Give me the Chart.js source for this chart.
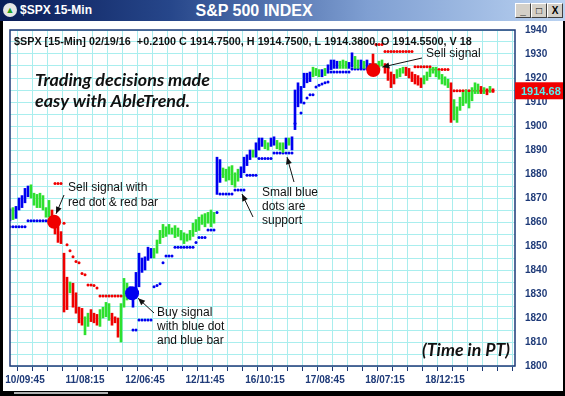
<!DOCTYPE html>
<html>
<head>
<meta charset="utf-8">
<script src="https://cdn.jsdelivr.net/npm/chart.js@4.4.0/dist/chart.umd.min.js"></script>
<style>
html,body{margin:0;padding:0;background:#fff;}
#win{position:relative;width:565px;height:396px;overflow:hidden;background:#fff;font-family:"Liberation Sans",Arial,sans-serif;}
canvas{position:absolute;left:0;top:0;}
#bar{position:absolute;left:0;top:0;width:565px;height:21px;background:linear-gradient(90deg,#0a1d58 0%,#26468a 30%,#7f9fd2 65%,#bad2f1 100%);}
#ico{position:absolute;left:3px;top:3px;width:14px;height:14px;border-radius:50%;background:#e6e6e6;color:#20a020;font-size:9px;line-height:14px;text-align:center;}
#sym{position:absolute;left:20px;top:3px;color:#fff;font-weight:bold;font-size:12px;line-height:15px;}
#ttl{position:absolute;left:0;width:508px;top:1px;text-align:center;color:#fff;font-weight:bold;font-size:16px;line-height:19px;}
.btn{position:absolute;top:3px;width:14px;height:13px;background:#d4d0c8;border:1px solid;border-color:#fff #404040 #404040 #fff;font-size:10px;line-height:13px;text-align:center;font-weight:bold;color:#000;}
.fr{position:absolute;background:#000;}
#sb{position:absolute;left:14px;bottom:2px;width:94px;height:2px;background:#b0b0b0;}
</style>
</head>
<body>
<div id="win">
  <canvas id="c" width="565" height="396"></canvas>
  <div id="bar">
    <div id="ico">&#9650;</div>
    <div id="sym">$SPX 15-Min</div>
    <div id="ttl">S&amp;P 500 INDEX</div>
    <div class="btn" style="left:515px">_</div>
    <div class="btn" style="left:531px">&#9633;</div>
    <div class="btn" style="left:547px">X</div>
  </div>
  <div class="fr" style="left:0;top:21px;width:3px;height:375px"></div>
  <div class="fr" style="right:0;top:21px;width:2px;height:375px"></div>
  <div class="fr" style="left:0;bottom:0;width:565px;height:5px"></div>
  <div id="sb"></div>
</div>
<script>
// 15-min bars, index 0 = 02/10 08:30 PT
const xLabelIdx = [5, 25, 45, 65, 85, 105, 125, 145];
const xLabels = ['10/09:45', '11/08:15', '12/06:45', '12/11:45', '16/10:15', '17/08:45', '18/07:15', '18/12:15'];

const barHigh = [
  1865.5, 1866, 1866.5, 1870, 1871, 1874, 1875, 1875.5, 1872, 1871.5,
  1872, 1871, 1866, 1869, 1865, 1861, 1858, 1856, 1847, 1837,
  1835, 1834.5, 1830.5, 1824.5, 1824, 1820.5, 1822, 1823.5, 1822, 1821.5,
  1823.5, 1824.5, 1826.5, 1826, 1822, 1820.5, 1820, 1826, 1836.5, 1834.5,
  1833, 1831.5, 1839, 1847, 1845, 1845.5, 1849.5, 1849, 1849, 1852.5,
  1856.5, 1859, 1858, 1859, 1857.5, 1858.5, 1857.5, 1856.5, 1855.5, 1855,
  1856.5, 1859.5, 1861, 1862, 1863, 1863.5, 1864, 1865, 1864, 1887,
  1886, 1882.5, 1882, 1883, 1883.5, 1880.5, 1882, 1883, 1887, 1888,
  1890, 1890, 1893, 1895, 1895, 1894, 1893, 1895, 1895.5, 1894,
  1893, 1893, 1895, 1895, 1895.5, 1915, 1918, 1916.5, 1922, 1922,
  1922.5, 1924.5, 1924, 1923.5, 1923.5, 1924, 1925.5, 1927.5, 1927.5, 1927,
  1927, 1927.5, 1927, 1926.5, 1930.5, 1929, 1927.5, 1927.5, 1927, 1927.5,
  1926, 1930, 1926, 1927, 1927.5, 1926, 1924.5, 1922.5, 1921.5, 1923.5,
  1924, 1924.5, 1924.5, 1924, 1922.5, 1921.5, 1921, 1920, 1921, 1922.5,
  1924, 1924.5, 1924.5, 1923, 1921.5, 1920.5, 1919.5, 1918, 1911, 1908,
  1912, 1914, 1915, 1914, 1916, 1918, 1917.5, 1916.5, 1916, 1915.5,
  1916.5, 1915.5
];
const barLow = [
  1860.5, 1861, 1861.5, 1865, 1866, 1868, 1870.5, 1870, 1867, 1866,
  1866, 1865, 1862, 1862, 1859, 1855, 1851.5, 1851, 1822.5, 1823.5,
  1830.5, 1824.5, 1822, 1818, 1817, 1813, 1816.5, 1818.5, 1818, 1817,
  1816.5, 1820, 1820.5, 1819, 1817, 1818, 1812, 1810, 1824.5, 1827.5,
  1828, 1824.5, 1829, 1833, 1839, 1840, 1844, 1845, 1845, 1847,
  1851, 1853.5, 1854, 1855, 1855, 1853.5, 1854, 1852.5, 1851, 1852,
  1852.5, 1854, 1856, 1856.5, 1859, 1858, 1859.5, 1858, 1859.5, 1871.5,
  1876.5, 1878.5, 1877, 1877.5, 1875.5, 1874.5, 1877, 1878.5, 1880.5, 1883.5,
  1886, 1887, 1887, 1890, 1891.5, 1890.5, 1890, 1891.5, 1892, 1890.5,
  1890, 1889, 1890.5, 1892, 1890, 1898.5, 1908, 1909.5, 1916, 1918,
  1918.5, 1920.5, 1921, 1920.5, 1920.5, 1921, 1922, 1923.5, 1924, 1924,
  1924, 1924, 1924, 1924, 1924.5, 1924, 1924, 1924, 1924, 1924,
  1923.5, 1922, 1923, 1924.5, 1925, 1922, 1919, 1916, 1917.5, 1920,
  1920.5, 1922, 1921, 1920, 1918.5, 1917.5, 1917, 1916, 1917.5, 1919,
  1920.5, 1922, 1920.5, 1919.5, 1917.5, 1917, 1916, 1901.5, 1902.5, 1901.5,
  1906.5, 1908.5, 1909.5, 1907.5, 1910.5, 1913.5, 1913.5, 1913.5, 1913.5, 1913,
  1914, 1914
];
// B = up trend bar, G = neutral, R = down trend bar
const barColor = (
  'BGBBBBBGGG' + 'GGGGRRRRRR' + 'GRRRRGGRRR' + 'GGGGRRRGGG' + 'BBBBBBBBGG' +
  'GGGGGGGGGG' + 'GGGGGGGGGB' + 'BGGGGGGBBB' + 'BGBBBGGBBG' + 'GGBGBBBBBB' +
  'BGGGBGBBBB' + 'GGGBBGGBGB' + 'BRGGGRRRRG' + 'GGRRRRRRGG' + 'GGGGGGGRGG' +
  'GGGGGGGRGR' + 'GR').split('');

const supportDots = [
  1858, 1858, 1858, 1858, 1858, 1858, 1860.5, 1860.5, 1860.5, 1860.5,
  1860.5, 1860.5, 1860.5, 1860.5, null, null, null, null, null, null,
  null, null, null, null, null, null, null, null, null, null,
  null, null, null, null, null, null, null, null, null, null,
  null, 1815, 1815, 1819.2, 1819.2, 1819.2, 1819.2, 1819.2, 1833, 1833.5,
  1834.3, 1843, 1845.8, 1845.8, 1845.8, 1849.5, 1849.5, 1849.5, 1849.5, 1849.5,
  1849.5, 1849.5, 1851.5, 1853.5, 1853.5, 1853.5, 1856.7, 1856.7, 1856.7, 1864,
  1871.7, 1871.7, 1871.7, 1871.7, 1871.7, 1873.3, 1873.3, 1873.3, 1873.3, 1879.5,
  1879.5, 1879.5, 1879.5, 1886.5, 1886.5, 1886.5, 1886.5, 1886.5, 1888.7, 1888.7,
  1888.7, 1888.7, 1888.7, 1888.7, 1888.7, 1901, null, 1905.4, 1909.6, 1911.7,
  1913, 1913, 1916.3, 1917, 1917.5, 1918, 1918.3, 1922.5, 1922.5, 1922.5,
  1922.5, 1922.5, 1922.5, 1922.5, 1923.8, 1923.8, 1923.8, 1923.8, 1923.8, 1923.8,
  1923.8
];
const resistDots = [
  null, null, null, null, null, null, null, null, null, null,
  null, null, null, null, null, 1876, 1876, 1876, 1859.5, 1850.5,
  1848, 1845.5, 1843.5, 1843, 1838.5, 1838, 1833.7, 1833.7, 1833.5, 1832.5,
  1829.2, 1829.2, 1829.2, 1829.2, 1829.2, 1829.2, 1829.2, 1829.2, 1829.2, null,
  null, null, null, null, null, null, null, null, null, null,
  null, null, null, null, null, null, null, null, null, null,
  null, null, null, null, null, null, null, null, null, null,
  null, null, null, null, null, null, null, null, null, null,
  null, null, null, null, null, null, null, null, null, null,
  null, null, null, null, null, null, null, null, null, null,
  null, null, null, null, null, null, null, null, null, null,
  null, null, null, null, null, null, null, null, null, null,
  null, null, 1934, 1934, 1934, 1931, 1931, 1931, 1931, 1931,
  1931, 1931, 1931, 1931, 1931, 1924.7, 1924.7, 1924.7, 1924.7, 1924.7,
  1924.7, 1923.5, 1923.5, 1923.5, 1923.5, 1923.5, 1923.5, null, 1914.7, 1914.7,
  1914.7, 1914.7, 1914.7, 1914.7, 1914.7, 1914.7, 1914.7, 1914.7, 1914.7, 1914.7,
  1914.7, 1914.7
];

const sellIdx = [14.7, 121.1];
const sellPrice = [1860.1, 1923.3];
const buyIdx = [40.7];
const buyPrice = [1830.3];
const lastPrice = 1914.68;

const NAVY = '#1e3a78';
const GRID = '#a9eeee';
const COL = { B: '#0000f0', G: '#2ee02e', R: '#f00000' };
const SANS = '"Liberation Sans", Arial, sans-serif';
const ITAL = 'Lato, "Open Sans", sans-serif';
const header = '$SPX [15-Min] 02/19/16  +0.2100 C 1914.7500, H 1914.7500, L 1914.3800, O 1914.5500, V 18';

function pts(arr) {
  return arr.map((v, i) => (v == null ? null : { x: i, y: v })).filter(p => p);
}

function fit(ctx, text, style, fam, w) {
  ctx.font = style + ' 20px ' + fam;
  const s = 20 * w / ctx.measureText(text).width;
  return style + ' ' + s.toFixed(2) + 'px ' + fam;
}

function arrow(ctx, x1, y1, x2, y2) {
  const a = Math.atan2(y2 - y1, x2 - x1), L = 7, W = 3;
  ctx.beginPath(); ctx.moveTo(x1, y1); ctx.lineTo(x2, y2); ctx.stroke();
  ctx.beginPath();
  ctx.moveTo(x2, y2);
  ctx.lineTo(x2 - L * Math.cos(a) + W * Math.sin(a), y2 - L * Math.sin(a) - W * Math.cos(a));
  ctx.lineTo(x2 - L * Math.cos(a) - W * Math.sin(a), y2 - L * Math.sin(a) + W * Math.cos(a));
  ctx.closePath(); ctx.fill();
}

const notes = {
  id: 'notes',
  afterDraw(chart) {
    const { ctx, chartArea: a, scales: { x, y } } = chart;
    ctx.save();
    ctx.strokeStyle = NAVY; ctx.lineWidth = 1.5;
    ctx.strokeRect(a.left, a.top, a.right - a.left, a.bottom - a.top);

    ctx.fillStyle = '#111'; ctx.textBaseline = 'alphabetic'; ctx.textAlign = 'left';
    ctx.font = fit(ctx, header, 'bold', SANS, 458);
    ctx.fillText(header, 14, 45);

    ctx.font = fit(ctx, 'Trading decisions made', 'italic bold', ITAL, 175);
    ctx.fillText('Trading decisions made', 35, 86);
    ctx.fillText('easy with AbleTrend.', 35, 107);
    ctx.font = fit(ctx, '(Time in PT)', 'italic bold', ITAL, 88);
    ctx.fillText('(Time in PT)', 422, 356);

    ctx.font = '12px ' + SANS;
    [['Sell signal with', 68, 191], ['red dot & red bar', 68, 206],
     ['Buy signal', 157, 316], ['with blue dot', 157, 330], ['and blue bar', 157, 344],
     ['Small blue', 262, 196], ['dots are', 262, 210], ['support', 262, 224],
     ['Sell signal', 426, 57]].forEach(t => ctx.fillText(t[0], t[1], t[2]));

    ctx.strokeStyle = '#111'; ctx.lineWidth = 1;
    const s1x = x.getPixelForValue(sellIdx[0]), s1y = y.getPixelForValue(sellPrice[0]);
    const s2x = x.getPixelForValue(sellIdx[1]), s2y = y.getPixelForValue(sellPrice[1]);
    const bx = x.getPixelForValue(buyIdx[0]), by = y.getPixelForValue(buyPrice[0]);
    arrow(ctx, 64, 195, s1x + 2, s1y - 8);
    arrow(ctx, 154, 313, bx + 6, by + 5);
    arrow(ctx, 422, 58, s2x + 9, s2y - 3);
    arrow(ctx, 253, 217, x.getPixelForValue(77) + 1, y.getPixelForValue(supportDots[77]) + 4);
    arrow(ctx, 294, 182, x.getPixelForValue(92) + 1, y.getPixelForValue(supportDots[92]) + 4);

    // last price tag
    const py = y.getPixelForValue(lastPrice);
    ctx.fillStyle = '#f00000';
    ctx.fillRect(a.right, py - 8.5, 50, 17);
    ctx.fillStyle = '#55f0f0';
    ctx.font = 'bold 11px ' + SANS;
    ctx.textBaseline = 'middle';
    ctx.fillText(lastPrice.toFixed(2), a.right + 6, py + 1);
    ctx.restore();
  }
};

const dotSet = (label, arr, color, r, order) => ({
  type: 'line', label, data: arr, showLine: false,
  pointRadius: r, pointHoverRadius: r, pointBorderWidth: 0,
  pointBackgroundColor: color, borderColor: color, order
});

new Chart(document.getElementById('c'), {
  type: 'bar',
  data: {
    datasets: [
      dotSet('support', pts(supportDots), COL.B, 1.5, 2),
      dotSet('resistance', pts(resistDots), COL.R, 1.5, 2),
      {
        type: 'bar', label: 'SPX',
        data: barHigh.map((h, i) => ({ x: i, y: [barLow[i], h] })),
        backgroundColor: c => COL[barColor[c.dataIndex]],
        barThickness: 2, order: 1
      },
      dotSet('sell', sellIdx.map((v, i) => ({ x: v, y: sellPrice[i] })), COL.R, 7, 0),
      dotSet('buy', buyIdx.map((v, i) => ({ x: v, y: buyPrice[i] })), COL.B, 7, 0)
    ]
  },
  options: {
    responsive: false, animation: false, devicePixelRatio: 1, events: [],
    layout: { padding: { left: 10, top: 30, right: 0, bottom: 0 } },
    plugins: { legend: { display: false }, tooltip: { enabled: false } },
    scales: {
      x: {
        type: 'linear', offset: false, min: 0, max: 168.33,
        afterBuildTicks: s => {
          const t = [];
          for (let v = 0; v <= 165; v += 5) t.push({ value: v });
          s.ticks = t;
        },
        afterFit: s => { s.height = 30; },
        grid: { color: GRID, tickColor: NAVY, tickLength: 5 },
        border: { display: false },
        ticks: {
          autoSkip: false, maxRotation: 0, padding: 3, color: NAVY,
          font: { family: SANS, size: 10, weight: 'bold' },
          callback: v => { const k = xLabelIdx.indexOf(v); return k < 0 ? '' : xLabels[k]; }
        }
      },
      y: {
        position: 'right', min: 1800, max: 1940,
        afterFit: s => { s.width = 50; },
        grid: { color: GRID, drawTicks: false },
        border: { display: false },
        ticks: {
          stepSize: 5, autoSkip: false, padding: 10, color: NAVY,
          font: { family: SANS, size: 10, weight: 'bold' },
          callback: v => (v % 10 === 0 ? String(v) : '')
        }
      }
    }
  },
  plugins: [notes]
});
</script>
</body>
</html>
